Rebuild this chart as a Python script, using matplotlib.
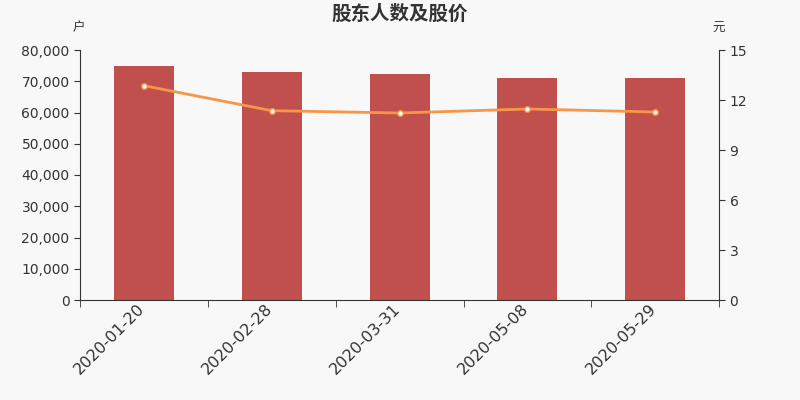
import matplotlib
matplotlib.use("Agg")
import matplotlib.pyplot as plt
from matplotlib.ticker import FuncFormatter, FixedLocator
from matplotlib.transforms import ScaledTranslation
import numpy as np

plt.rcParams['font.family'] = ['DejaVu Sans', 'Noto Sans CJK SC']

dates = ["2020-01-20", "2020-02-28", "2020-03-31", "2020-05-08", "2020-05-29"]
holders = [75000, 73100, 72200, 71200, 70900]
prices = [12.86, 11.36, 11.22, 11.46, 11.28]

title = "股东人数及股价"
left_unit = "户"
right_unit = "元"

bg = "#f8f8f8"
bar_color = "#c0504d"
line_color = "#f79646"
text_color = "#333333"

fig = plt.figure(figsize=(8, 4), dpi=100, facecolor=bg)
ax = fig.add_axes([0.1, 0.25, 0.799, 0.625])
ax.set_facecolor(bg)
x = np.arange(len(dates))
ax.bar(x, holders, width=0.47, color=bar_color, zorder=2)
ax.set_xlim(-0.5, len(dates) - 0.5)
ax.set_ylim(0, 80000)
ax.set_yticks(np.arange(0, 80001, 10000))
ax.yaxis.set_major_formatter(FuncFormatter(lambda v, p: f"{int(v):,}"))
ax.set_xticks(x)
ax.set_xticklabels(dates, rotation=45, ha='right', rotation_mode='anchor',
                   fontsize=11.5, color=text_color)
ax.tick_params(axis='x', length=0, pad=3)
offset = ScaledTranslation(-5 / 72, 2 / 72, fig.dpi_scale_trans)
for lbl in ax.get_xticklabels():
    lbl.set_transform(lbl.get_transform() + offset)
ax.xaxis.set_minor_locator(FixedLocator(np.arange(-0.5, len(dates), 1.0)))
ax.tick_params(axis='x', which='minor', length=5, color=text_color)
ax.tick_params(axis='y', labelsize=10, colors=text_color, length=4)
for s in ['top', 'right']:
    ax.spines[s].set_visible(False)
ax.spines['left'].set_color(text_color)
ax.spines['bottom'].set_color(text_color)

ax2 = ax.twinx()
ax2.plot(x, prices, color=line_color, linewidth=2, marker='o', markersize=4,
         markerfacecolor='white', markeredgecolor=line_color, markeredgewidth=1, zorder=3)
ax2.set_ylim(0, 15)
ax2.set_yticks(np.arange(0, 16, 3))
ax2.tick_params(axis='y', labelsize=10, colors=text_color, length=4)
for s in ['top', 'left', 'bottom']:
    ax2.spines[s].set_visible(False)
ax2.spines['right'].set_color(text_color)

fig.text(0.5, 0.965, title, ha='center', va='center', fontsize=14, fontweight='bold',
         color=text_color, family=['Noto Sans CJK SC', 'DejaVu Sans'])
fig.text(0.098, 0.93, left_unit, ha='center', va='center', fontsize=9, color=text_color,
         family=['Noto Sans CJK SC', 'DejaVu Sans'])
fig.text(0.898, 0.93, right_unit, ha='center', va='center', fontsize=9, color=text_color,
         family=['Noto Sans CJK SC', 'DejaVu Sans'])

fig.savefig("out.png", dpi=100, facecolor=bg)
